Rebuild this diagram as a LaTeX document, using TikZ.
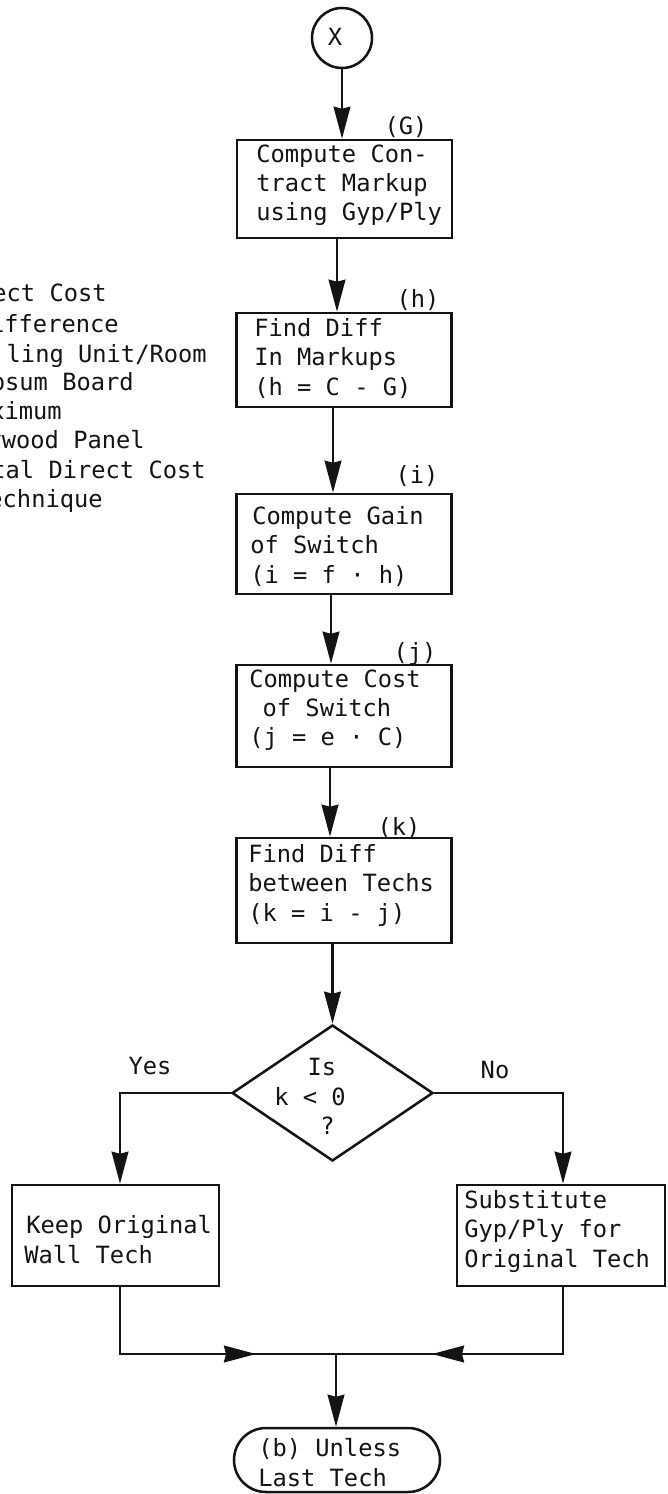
\documentclass[tikz,border=0pt]{standalone}
\usepackage{fontspec}
\setmainfont{DejaVu Sans Mono}
\usetikzlibrary{arrows.meta,shapes.geometric}
\definecolor{ink}{HTML}{141414}
\tikzset{
  bx/.style={draw=ink,line width=1.9pt,inner sep=0pt,minimum width=215*0.75pt},
  txt/.style={align=left,anchor=north west,inner sep=0pt,yshift=14pt,text=ink,
    font=\fontsize{17.8}{22}\selectfont,execute at begin node={\rule{0pt}{14pt}}},
  lab/.style={anchor=base,inner sep=0pt,text=ink,font=\fontsize{17.8}{22}\selectfont},
  leg/.style={anchor=base east,inner sep=0pt,text=ink,font=\fontsize{17.8}{22}\selectfont},
  arr/.style={draw=ink,line width=2.1pt,-{Stealth[length=24pt,width=12.5pt,inset=1.5pt]}},
  ln/.style={draw=ink,line width=2.1pt},
}
\begin{document}
\begin{tikzpicture}[x=0.75pt,y=-0.75pt]
\useasboundingbox (0,0) rectangle (667,1494);
% start
\node[draw=ink,line width=1.9pt,circle,minimum size=45pt,inner sep=0pt] (x) at (342,38) {};
\node[lab] (xt) at (335,46) {X};
% boxes
\node[bx,minimum height=98*0.75pt]  (g) at (344.5,189) {};
\node[bx,minimum height=94*0.75pt]  (h) at (344,360) {};
\node[bx,minimum height=100*0.75pt] (i) at (344,544) {};
\node[bx,minimum height=102*0.75pt] (j) at (344,716) {};
\node[bx,minimum height=105*0.75pt] (k) at (344,890.5) {};
\node[draw=ink,line width=1.9pt,diamond,aspect=1.478,minimum width=201*0.75pt,minimum height=136*0.75pt,inner sep=0pt] (d) at (332.5,1093) {};
\node[bx,minimum width=207*0.75pt,minimum height=101*0.75pt] (keep) at (115.5,1235.5) {};
\node[bx,minimum width=208*0.75pt,minimum height=101*0.75pt] (sub) at (561,1235.5) {};
\node[draw=ink,line width=1.9pt,rounded corners=24pt,inner sep=0pt,minimum width=206*0.75pt,minimum height=64*0.75pt] (t) at (337,1460) {};
% box texts
\node[txt] (gt) at (256,163) {Compute Con-\\tract Markup\\using Gyp/Ply};
\node[txt] (ht) at (254,337) {Find Diff\\In Markups\\(h = C - G)};
\node[txt] (it) at (250,525) {\hspace*{1.5pt}Compute Gain\\of Switch\\(i = f · h)};
\node[txt] (jt) at (249,688) {Compute Cost\\\hspace*{10pt}of Switch\\(j = e · C)};
\node[txt] (kt) at (248,863) {Find Diff\\between Techs\\(k = i - j)};
\node[txt] (dt) at (274,1077) {\hspace*{25pt}Is\\k < 0\\\hspace*{34.5pt}?};
\node[txt] (keept) at (24,1234) {\hspace*{1.5pt}Keep Original\\Wall Tech};
\node[txt] (subt) at (464,1209) {Substitute\\Gyp/Ply for\\Original Tech};
\node[txt] (tt) at (258,1457) {(b) Unless\\Last Tech};
% reference letters
\node[lab] (gl) at (406,135) {(G)};
\node[lab] (hl) at (418,308) {(h)};
\node[lab] (il) at (417,483) {(i)};
\node[lab] (jl) at (415,660) {(j)};
\node[lab] (kl) at (399,835) {(k)};
\node[lab] (yes) at (150,1074) {Yes};
\node[lab] (no) at (495,1078) {No};
% legend
\node[leg] (l1) at (107,302) {ect Cost};
\node[leg] (l2) at (119,332) {ifference};
\node[leg] (l3) at (207,362) {ling Unit/Room};
\node[leg] (l4) at (134,390) {psum Board};
\node[leg] (l5) at (62,419) {ximum};
\node[leg] (l6) at (145,448) {ywood Panel};
\node[leg] (l7) at (206,478) {tal Direct Cost};
\node[leg] (l8) at (103,507) {echnique};
% arrow columns
\coordinate (ch) at (337,0);
\coordinate (ci) at (333,0);
\coordinate (cj) at (331,0);
\coordinate (ck) at (330,0);
\coordinate (cl) at (120,0);
\coordinate (cr) at (563,0);
\coordinate (ml) at (256,1354);
\coordinate (mr) at (432,1354);
\coordinate (mg) at (336,1354);
% connectors
\draw[arr] (x.south) -- (x.south |- g.north);
\draw[arr] (g.south -| ch) -- (h.north -| ch);
\draw[arr] (h.south -| ci) -- (i.north -| ci);
\draw[arr] (i.south -| cj) -- (j.north -| cj);
\draw[arr] (j.south -| ck) -- (k.north -| ck);
\draw[arr] (k.south -| d.north) -- (d.north);
\draw[arr] (d.west) -| (keep.north -| cl);
\draw[arr] (d.east) -| (sub.north -| cr);
\draw[arr] (keep.south -| cl) |- (ml);
\draw[arr] (sub.south -| cr) |- (mr);
\draw[ln,shorten <=-8pt,shorten >=-8pt] (ml) -- (mr);
\draw[arr] (mg) -- (t.north -| mg);
\end{tikzpicture}
\end{document}
